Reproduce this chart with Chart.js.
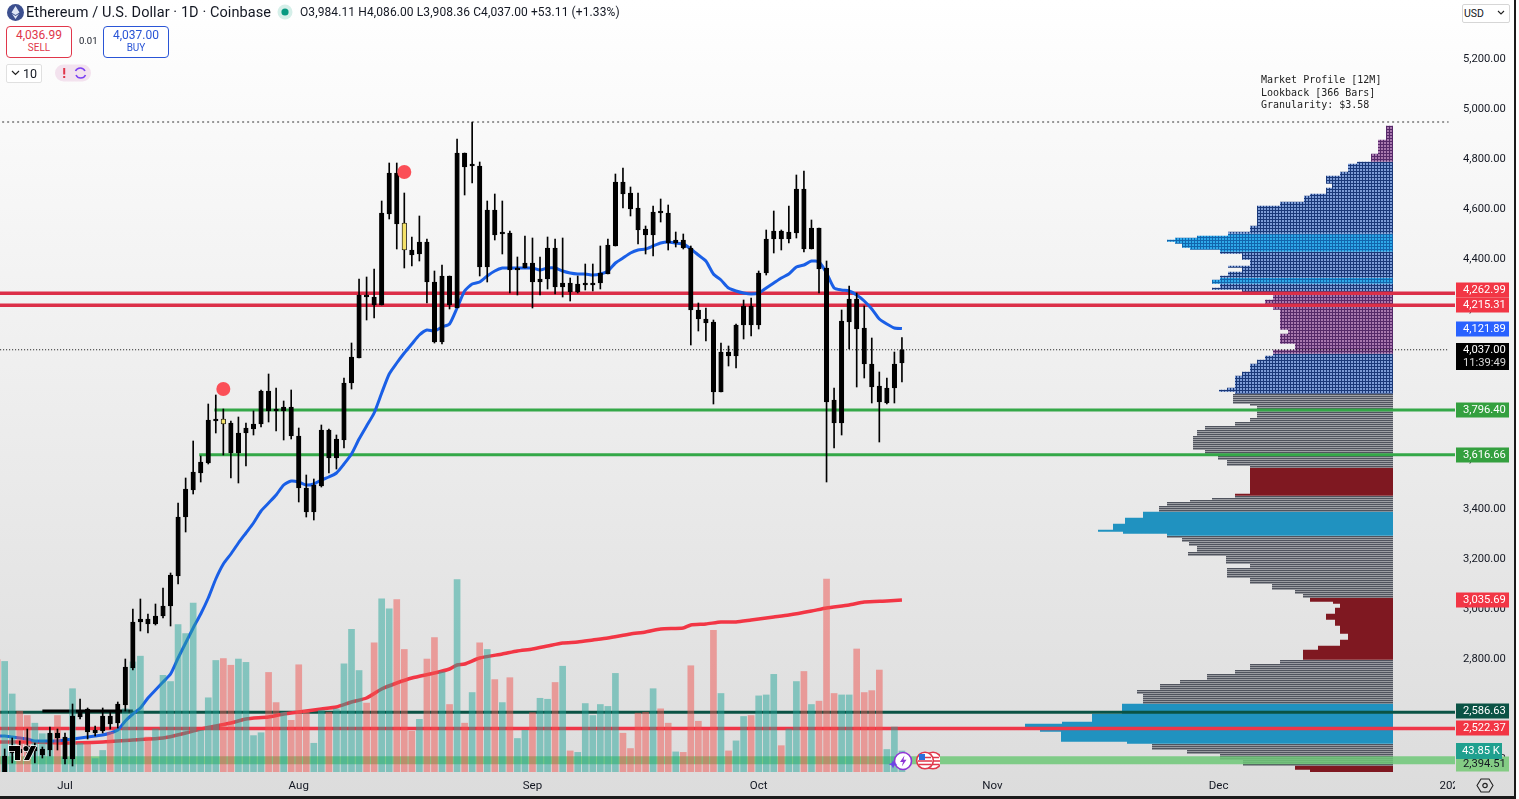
<!DOCTYPE html>
<html>
<head>
<meta charset="utf-8">
<title>ETHUSD</title>
<script src="https://cdn.jsdelivr.net/npm/chart.js@4"></script>
<style>
  html, body { margin: 0; padding: 0; background: #fff; overflow: hidden; }
  #wrap { position: relative; width: 1519px; height: 799px; font-family: Roboto, sans-serif; color: #131722; }
  #wrap canvas { position: absolute; left: 0; top: 0; }
  .abs { position: absolute; white-space: nowrap; }
  .trade { position: absolute; top: 26px; height: 29px; width: 64px; border: 1px solid; border-radius: 4px; text-align: center; font-size: 12px; line-height: 14px; padding-top: 1px; background: #fff; }
  .trade small { display: block; font-size: 10px; line-height: 11px; }
</style>
</head>
<body>
<div id="wrap">
  <canvas id="chart" width="1519" height="799"></canvas>

  <svg class="abs" style="left:6px;top:3px" width="19" height="19" viewBox="0 0 19 19">
    <circle cx="9.5" cy="9.5" r="8.5" fill="#3c4f8f"/>
    <path d="M9.5 3 L13.5 9.6 L9.5 12 L5.5 9.6 Z M9.5 13 L13 10.8 L9.5 16 L6 10.8 Z" fill="#dfe6f7"/>
  </svg>
  <div class="abs" style="left:26px;top:4px;font-size:14.5px;letter-spacing:.08px">Ethereum / U.S. Dollar · 1D · Coinbase</div>
  <svg class="abs" style="left:277px;top:4px" width="16" height="16"><circle cx="8" cy="8" r="7.5" fill="#d5efe9"/><circle cx="8" cy="8" r="3.6" fill="#089981"/></svg>
  <div class="abs" style="left:300px;top:5px;font-size:12px;letter-spacing:.1px">O3,984.11 H4,086.00 L3,908.36 C4,037.00 +53.11 (+1.33%)</div>

  <div class="trade" style="left:6px;border-color:#e0364a;color:#e0364a">4,036.99<small>SELL</small></div>
  <div class="abs" style="left:79px;top:35px;font-size:9.5px">0.01</div>
  <div class="trade" style="left:103px;border-color:#2a55d6;color:#2a55d6">4,037.00<small>BUY</small></div>

  <div class="abs" style="left:6px;top:64px;width:34px;height:17px;border:1px solid #e0e0e0;border-radius:2px;background:#fff;font-size:12.5px;line-height:17px;text-align:right"><span style="padding-right:4px">10</span></div>
  <svg class="abs" style="left:11px;top:70px" width="9" height="6"><path d="M1 1 L4.5 4.5 L8 1" fill="none" stroke="#222" stroke-width="1.2"/></svg>
  <svg class="abs" style="left:55px;top:64px" width="36" height="18">
    <rect x="0" y="0.5" width="36" height="17" rx="8.5" fill="#f3e2ee"/>
    <rect x="8.2" y="4" width="2" height="6.5" fill="#e0364a"/><rect x="8.2" y="12" width="2" height="2" fill="#e0364a"/>
    <path d="M20.5 7 A5.2 5.2 0 0 1 30 7 M30.5 11 A5.2 5.2 0 0 1 21 11" fill="none" stroke="#7b3ff2" stroke-width="1.5"/>
  </svg>

  <div class="abs" style="left:1462px;top:4px;width:46px;height:17px;border:1px solid #d6d6d6;border-radius:2px;background:#fff;font-size:10.5px;line-height:17px;text-indent:1px">USD</div>
  <svg class="abs" style="left:1497px;top:10px" width="8" height="6"><path d="M1 1 L4 4 L7 1" fill="none" stroke="#222" stroke-width="1.1"/></svg>

  <div class="abs" style="left:1261px;top:74px;font-family:'DejaVu Sans Mono',monospace;font-size:10px;line-height:12.6px;color:#222">Market Profile [12M]<br>Lookback [366 Bars]<br>Granularity: $3.58</div>

  <svg class="abs" style="left:7px;top:743px" width="31" height="21" viewBox="0 0 31 21">
    <path d="M2 3 H13 V17 H8 V8 H2 Z M19 3 A2.6 2.6 0 1 1 19 8.2 A2.6 2.6 0 1 1 19 3 Z M24 3 H29 L22 17 H17 Z" fill="#000" stroke="#fff" stroke-width="1.5" paint-order="stroke"/>
  </svg>

  <svg class="abs" style="left:886px;top:749px" width="54" height="24" viewBox="0 0 54 24">
    <circle cx="17" cy="12" r="8.5" fill="#fff" stroke="#8f35d6" stroke-width="1.6"/>
    <path d="M18.5 6.5 L14 13 H17 L15.8 17.5 L20.5 10.8 H17.5 Z" fill="#8f35d6"/>
    <path d="M7 11 L8.3 14 L11.3 15.3 L8.3 16.6 L7 19.6 L5.7 16.6 L2.7 15.3 L5.7 14 Z" fill="#6a45e6"/>
    <circle cx="47" cy="11.5" r="8.3" fill="#fff" stroke="#e0364a" stroke-width="1.6"/>
    <path d="M41 8.5 H53 M40 12 H54 M41 15.5 H53" stroke="#e0364a" stroke-width="1.4"/>
    <circle cx="39" cy="11.5" r="8.3" fill="#fff" stroke="#e0364a" stroke-width="1.6"/>
    <path d="M33 8.5 H45 M32 12 H46 M33 15.5 H45" stroke="#e0364a" stroke-width="1.4"/>
    <rect x="33" y="5" width="6" height="6" fill="#2a6fdb"/>
  </svg>

  <svg class="abs" style="left:1476px;top:777px" width="18" height="17" viewBox="0 0 18 17">
    <path d="M5 2 H13 L17 8.5 L13 15 H5 L1 8.5 Z" fill="none" stroke="#222" stroke-width="1.1"/>
    <circle cx="9" cy="8.5" r="2.2" fill="none" stroke="#222" stroke-width="1.2"/>
  </svg>
</div>

<script>
// first candle sits nine days before 1 Jul
var firstDay = -9;

var opens = [
  2452,2344,2424,2440,2452,2432,2416,2436,2504,2400,
  2400,2568,2600,2504,2512,2572,2544,2616,2764,2948,
  2960,2940,2972,3012,3132,3368,3476,3544,3584,3752,
  3760,3744,3624,3704,3720,3740,3872,3796,3792,3808,
  3692,3484,3388,3492,3716,3604,3676,3904,4004,4256,
  4248,4216,4580,4744,4544,4436,4420,4468,4308,4068,
  4332,4204,4824,4772,4772,4368,4596,4500,4504,4356,
  4364,4384,4308,4320,4444,4288,4304,4268,4296,4296,
  4304,4340,4452,4708,4664,4604,4520,4496,4588,4584,
  4464,4476,4444,4196,4160,4148,3868,4028,4012,4136,
  4212,4136,4344,4480,4512,4480,4504,4680,4440,4524,
  4364,3836,3744,4148,4240,4124,3980,3892,3824,3884,3984.11];
var highs = [
  2464,2440,2484,2472,2520,2464,2448,2528,2520,2504,
  2620,2640,2604,2532,2604,2588,2628,2800,3000,3040,
  2980,3020,3084,3144,3424,3524,3672,3612,3820,3856,
  3800,3752,3768,3744,3792,3876,3940,3884,3832,3876,
  3724,3536,3520,3736,3720,3696,3924,4064,4320,4328,
  4360,4632,4784,4784,4664,4488,4572,4480,4352,4376,
  4332,4880,4824,4948,4788,4632,4660,4632,4512,4408,
  4492,4484,4408,4488,4480,4484,4324,4332,4380,4380,
  4452,4480,4740,4764,4688,4664,4532,4612,4640,4616,
  4508,4500,4452,4224,4204,4156,4064,4052,4140,4236,
  4244,4352,4516,4592,4516,4612,4736,4752,4556,4524,
  4392,3884,4196,4292,4264,4212,4084,3948,3924,4028,4086];
var lows = [
  2372,2332,2384,2408,2424,2384,2404,2412,2436,2380,
  2372,2560,2480,2492,2504,2520,2524,2592,2756,2912,
  2904,2936,2964,2932,3100,3308,3460,3508,3580,3704,
  3616,3524,3504,3572,3696,3728,3748,3712,3676,3680,
  3428,3368,3356,3488,3544,3560,3644,3880,4004,4156,
  4164,4216,4560,4440,4364,4372,4392,4224,4064,4060,
  4200,4204,4656,4704,4332,4308,4476,4420,4264,4256,
  4364,4204,4256,4280,4260,4248,4232,4264,4276,4272,
  4280,4340,4452,4604,4572,4460,4420,4412,4548,4436,
  4448,4440,4056,4112,4072,3820,3868,3972,3964,4080,
  4092,4120,4336,4424,4436,4464,4484,4428,4440,4264,
  3508,3644,3696,4040,3888,3924,3824,3668,3820,3824,3908.36];
var closes = [
  2392,2412,2436,2424,2432,2448,2440,2504,2484,2488,
  2572,2592,2508,2516,2572,2540,2620,2768,2948,2960,
  2940,2972,3012,3136,3368,3480,3548,3588,3756,3760,
  3740,3624,3704,3724,3740,3872,3792,3792,3808,3692,
  3484,3388,3496,3716,3604,3680,3904,4008,4256,4248,
  4216,4584,4744,4540,4436,4416,4468,4308,4068,4332,
  4216,4824,4768,4776,4368,4596,4496,4504,4356,4364,
  4384,4308,4320,4444,4288,4304,4268,4300,4300,4304,
  4344,4456,4708,4660,4600,4516,4496,4588,4584,4464,
  4476,4444,4196,4160,4144,3868,4028,4012,4136,4212,
  4136,4344,4480,4512,4480,4508,4680,4440,4524,4360,
  3828,3744,4152,4240,4120,3980,3888,3828,3884,3980,4037];
// volume in thousands
var volumes = [
  235,231,163,127,118,102,80,80,118,30,
  174,60,59,28,45,83,90,132,230,242,
  73,90,202,189,308,289,353,87,155,233,
  237,223,236,229,76,82,208,145,125,108,
  224,129,60,129,125,132,226,298,212,144,
  270,362,341,360,256,85,110,236,281,209,
  141,402,102,166,270,256,193,145,197,70,
  87,124,154,152,187,221,44,41,143,118,
  141,137,206,81,49,123,125,174,132,102,
  42,41,222,106,87,296,164,44,65,116,
  118,159,161,204,55,90,189,210,141,148,
  403,164,161,161,257,166,170,213,47,94,43.85];
var emaValues = [
  2492,2492,2488,2484,2480,2472,2472,2472,2472,2476,
  2480,2484,2488,2492,2496,2504,2516,2552,2580,2604,
  2644,2676,2708,2740,2804,2864,2924,2980,3044,3120,
  3180,3220,3264,3304,3344,3392,3424,3456,3496,3512,
  3508,3496,3500,3516,3528,3544,3580,3620,3680,3732,
  3784,3864,3940,3984,4024,4060,4096,4116,4112,4128,
  4140,4204,4272,4300,4308,4332,4352,4364,4364,4364,
  4364,4364,4356,4364,4364,4352,4344,4340,4340,4336,
  4340,4352,4384,4404,4424,4436,4440,4452,4464,4468,
  4464,4460,4440,4416,4392,4340,4316,4284,4272,4264,
  4260,4264,4284,4304,4324,4340,4368,4376,4392,4388,
  4344,4284,4276,4272,4256,4232,4200,4160,4140,4124,4121.89];
var smaDays = [-9,-4,0,5,9,13,16,18,20,22,24,27,29,31,34,36,38,40,42,44,46,49,51,52,53,55,58,60,62,64,66,68,70,72,75,77,79,82,83,85,87,89,91,94,96,99,101,104,106,109,111];
var smaValues = [2468,2468,2464,2468,2476,2484,2504,2520,2532,2544,2560,2568,2580,2588,2600,2608,2628,2644,2680,2704,2724,2744,2760,2776,2780,2804,2820,2832,2840,2852,2864,2868,2876,2884,2900,2908,2920,2924,2936,2940,2948,2948,2956,2968,2976,2992,3004,3016,3028,3032,3035.69];

var yellowDays = [21, 45];
var signalDays = [21, 45];
var signalPrices = [3880, 4748];

// market profile: row length starting at each price, going down
var profilePrices = [4932,4880,4820,4792,4780,4752,4732,4704,4684,4664,4652,4632,4612,4532,4512,4492,4484,4476,4472,4460,4444,4436,4420,4400,4376,4364,4352,4332,4320,4304,4284,4276,4260,4240,4224,4200,4120,4100,4060,4040,4012,4000,3980,3952,3932,3884,3876,3868,3860,3824,3812,3764,3752,3732,3720,3692,3640,3620,3600,3572,3460,3448,3440,3428,3412,3388,3368,3340,3320,3312,3300,3288,3268,3252,3232,3212,3184,3164,3124,3100,3080,3060,3044,3032,3020,3004,2980,2960,2932,2904,2880,2852,2836,2800,2784,2760,2740,2720,2700,2680,2660,2624,2580,2548,2540,2516,2508,2472,2460,2440,2420,2400,2372,2360];
var profileLengths = [7,15,22,36,45,53,67,61,67,83,89,113,136,143,165,196,218,226,218,211,203,173,151,143,165,151,165,173,181,173,181,151,120,128,120,113,105,113,98,120,128,136,143,151,158,166,174,158,160,143,136,143,158,188,196,200,188,175,166,143,158,181,203,226,234,250,268,280,295,270,226,211,204,196,205,167,143,166,143,121,98,90,83,60,53,58,67,58,53,45,53,75,90,113,143,158,186,213,233,256,250,271,301,331,368,353,332,266,241,206,173,150,98,83];
var profileBottom = 2344;
var profileRowStep = 8;
var zoneTops = [4932,4792,4504,4432,4324,4300,4264,4020,3864,3568,3452,3388,3296,3044,2800,2620,2464,2376];
var zoneKinds = ['purple','grid','bright','grid','bright','grid','purple','grid','gray','maroon','gray','cyan','gray','maroon','gray','cyan','gray','maroon'];

// horizontal levels
var levelPrices = [4262.99,4215.31,3796.40,3616.66,2586.63,2522.37,2394.51];
var levelFrom = [-9,-9,19.8,17.8,-9,-9,-9];
var levelColors = ['#dc2f48','#dc2f48','#34a848','#34a848','#0b5345','#ef3648','rgba(110,200,120,0.85)'];
var levelWidths = [3.5,3.5,3,3,3,3.5,8];
var highPrice = 4948;
var lastClose = 4037;
var blackLevel = 2592, blackFrom = -3, blackTo = 9;

var monthDays = [0,31,62,92,123,153,184];
var monthLabels = ['Jul','Aug','Sep','Oct','Nov','Dec','2026'];
var priceTicks = [2400,2600,2800,3000,3200,3400,3600,3800,4000,4200,4400,4600,4800,5000,5200];

var fmt = function (v) { return v.toLocaleString('en-US', { minimumFractionDigits: 2, maximumFractionDigits: 2 }); };

// price tags on the axis
var tags = [
  { value: 4262.99, bg: '#f23645', shift: -3 },
  { value: 4215.31, bg: '#f23645' },
  { value: 4121.89, bg: '#2962ff' },
  { value: 3796.40, bg: '#34a03f' },
  { value: 3616.66, bg: '#34a03f' },
  { value: 3035.69, bg: '#f23645' },
  { value: 2586.63, bg: '#0b5345', shift: -1 },
  { value: 2522.37, bg: '#f23645' },
  { value: 2394.51, bg: '#84cc84', color: '#131722', shift: 4 }
];

var days = opens.map(function (_, i) { return firstDay + i; });

function tile(cell, line) {
  var c = document.createElement('canvas');
  c.width = 3; c.height = 3;
  var g = c.getContext('2d');
  g.fillStyle = cell; g.fillRect(0, 0, 3, 3);
  g.fillStyle = line; g.fillRect(0, 0, 3, 1); g.fillRect(0, 0, 1, 3);
  return g.createPattern(c, 'repeat');
}

var zoneStyles = {
  purple: { color: tile('#a878ae', '#552868'), width: 2.1 },
  grid: { color: tile('#7d9cd6', '#1a3878'), width: 2.1 },
  bright: { color: tile('#2ea9ea', '#1265ad'), width: 2.1 },
  gray: { color: '#50545e', width: 1.5 },
  maroon: { color: '#7f1821', width: 2.1 },
  cyan: { color: '#2092c0', width: 2.1 }
};

function profileLength(p) {
  var len = 0;
  for (var i = 0; i < profilePrices.length; i++) {
    if (p <= profilePrices[i]) len = profileLengths[i];
  }
  return len;
}

// one row every profileRowStep, each row goes to the zone it falls in
var zoneRows = zoneTops.map(function () { return []; });
for (var p = zoneTops[0] - 3; p > profileBottom; p -= profileRowStep) {
  var zone = 0;
  for (var z = 0; z < zoneTops.length; z++) {
    if (p <= zoneTops[z]) zone = z;
  }
  zoneRows[zone].push({ x: 0, y: p }, { x: profileLength(p), y: p }, { x: 0, y: NaN });
}

var profileSets = zoneRows.map(function (rows, z) {
  var st = zoneStyles[zoneKinds[z]];
  return {
    type: 'line', data: rows, xAxisID: 'xp', yAxisID: 'y', order: 50,
    borderColor: st.color, borderWidth: st.width, borderCapStyle: 'butt',
    pointRadius: 0, spanGaps: false, tension: 0
  };
});

var levelSets = levelPrices.map(function (price, i) {
  return {
    type: 'line', data: [{ x: levelFrom[i], y: price }, { x: 186, y: price }], order: 40,
    borderColor: levelColors[i], borderWidth: levelWidths[i], pointRadius: 0, borderCapStyle: 'butt'
  };
});

var isYellow = function (d) { return yellowDays.indexOf(d) >= 0; };

var pageFill = function (c) {
  var g = c.createLinearGradient(0, 0, 0, 796);
  g.addColorStop(0, '#ffffff');
  g.addColorStop(1, '#dcdcdc');
  return g;
};

var framePlugin = {
  id: 'frame',
  beforeDraw: function (chart) {
    var c = chart.ctx;
    c.save();
    c.fillStyle = pageFill(c);
    c.fillRect(0, 0, 1514, 796);
    c.restore();
  },
  // covers the x labels that run under the price axis
  beforeDatasetsDraw: function (chart) {
    var c = chart.ctx, right = chart.chartArea.right;
    c.save();
    c.fillStyle = pageFill(c);
    c.fillRect(right, 0, 1514 - right, 796);
    c.fillStyle = '#1a1a1a';
    c.fillRect(1514, 0, 2, 796);
    c.fillRect(0, 796, 1516, 3);
    c.restore();
  },
  afterDraw: function (chart) {
    var c = chart.ctx, y = chart.scales.y, yv = chart.scales.yv;
    var left = chart.chartArea.right + 1;
    c.save();
    c.font = '11.2px Roboto';
    c.textBaseline = 'middle';
    c.textAlign = 'left';
    tags.forEach(function (t) {
      var py = Math.round(y.getPixelForValue(t.value) + (t.shift || 0));
      c.fillStyle = t.bg;
      c.fillRect(left, py - 7.5, 53, 15);
      c.fillStyle = t.color || '#fff';
      c.fillText(fmt(t.value), left + 7, py + 0.5);
    });
    // last price with bar countdown
    var ly = Math.round(y.getPixelForValue(lastClose));
    c.fillStyle = '#000';
    c.fillRect(left, ly - 7, 53, 27);
    c.fillStyle = '#fff';
    c.fillText(fmt(lastClose), left + 7, ly);
    c.fillStyle = '#d8d8d8';
    c.fillText('11:39:49', left + 7, ly + 13);
    // last volume
    var vy = Math.round(yv.getPixelForValue(volumes[volumes.length - 1]));
    c.fillStyle = '#1fa08f';
    c.fillRect(left, vy - 8, 46, 16);
    c.fillStyle = '#fff';
    c.fillText(volumes[volumes.length - 1] + ' K', left + 6, vy + 0.5);
    c.restore();
  }
};

new Chart(document.getElementById('chart').getContext('2d'), {
  type: 'bar',
  data: {
    datasets: profileSets.concat(levelSets, [
      {
        type: 'line', data: [{ x: -9, y: highPrice }, { x: 183.5, y: highPrice }], order: 41,
        borderColor: '#777', borderWidth: 1.5, borderDash: [2, 3], pointRadius: 0
      },
      {
        type: 'line', data: [{ x: -9, y: lastClose }, { x: 183.5, y: lastClose }], order: 41,
        borderColor: '#111', borderWidth: 1, borderDash: [1, 2], pointRadius: 0
      },
      {
        type: 'line', data: [{ x: blackFrom, y: blackLevel }, { x: blackTo, y: blackLevel }], order: 39,
        borderColor: '#000', borderWidth: 3, pointRadius: 0, borderCapStyle: 'butt'
      },
      {
        type: 'line', order: 30, pointRadius: 0, borderColor: '#1a5fe6', borderWidth: 3, tension: 0.2,
        data: days.map(function (d, i) { return { x: d, y: emaValues[i] }; })
      },
      {
        type: 'line', order: 31, pointRadius: 0, borderColor: '#f23645', borderWidth: 3.5, tension: 0.2,
        data: smaDays.map(function (d, i) { return { x: d, y: smaValues[i] }; })
      },
      {
        type: 'bar', order: 20, yAxisID: 'yv', grouped: false, barThickness: 6,
        data: days.map(function (d, i) { return { x: d, y: volumes[i] }; }),
        backgroundColor: days.map(function (d, i) {
          return closes[i] >= opens[i] ? 'rgba(38,166,154,0.5)' : 'rgba(239,83,80,0.5)';
        })
      },
      {
        type: 'bar', order: 10, grouped: false, barThickness: 1, backgroundColor: '#000',
        data: days.map(function (d, i) { return { x: d, y: [lows[i], highs[i]] }; })
      },
      {
        type: 'bar', order: 5, grouped: false, barThickness: 4.5, minBarLength: 2,
        borderSkipped: false, borderWidth: 0.8, borderColor: '#000',
        data: days.map(function (d, i) { return { x: d, y: [opens[i], closes[i]] }; }),
        backgroundColor: days.map(function (d) { return isYellow(d) ? '#f5e26a' : '#000'; })
      },
      {
        type: 'line', order: 1, showLine: false, pointRadius: 7, pointBackgroundColor: '#fb4f57', pointBorderWidth: 0,
        data: signalDays.map(function (d, i) { return { x: d, y: signalPrices[i] }; })
      }
    ])
  },
  options: {
    responsive: false,
    animation: false,
    events: [],
    layout: { padding: 0, autoPadding: false },
    plugins: { legend: { display: false }, tooltip: { enabled: false } },
    scales: {
      x: {
        type: 'linear', position: 'bottom', offset: false, min: -8.62, max: 184.35,
        grid: { display: false, offset: false, drawTicks: false }, border: { display: false },
        afterBuildTicks: function (s) { s.ticks = monthDays.map(function (d) { return { value: d }; }); },
        afterFit: function (s) { s.height = 27; s.paddingLeft = 0; s.paddingRight = 0; },
        ticks: {
          autoSkip: false, maxRotation: 0, padding: 7, color: '#131722',
          font: { family: 'Roboto', size: 11.5 },
          callback: function (v) { return monthLabels[monthDays.indexOf(v)]; }
        }
      },
      xp: {
        type: 'linear', display: false, reverse: true, min: -62, max: 1393, offset: false,
        grid: { display: false }
      },
      y: {
        type: 'linear', position: 'right', min: 2348, max: 5436,
        grid: { display: false, drawTicks: false }, border: { display: false },
        afterBuildTicks: function (s) { s.ticks = priceTicks.map(function (p) { return { value: p }; }); },
        afterFit: function (s) { s.width = 64; s.paddingTop = 0; s.paddingBottom = 0; },
        ticks: {
          z: 1, padding: 8, color: '#131722', autoSkip: false,
          font: { family: 'Roboto', size: 11.2 },
          callback: function (v) { return fmt(v); }
        }
      },
      yv: { type: 'linear', display: false, min: 0, max: 1613, grid: { display: false } }
    }
  },
  plugins: [framePlugin]
});
</script>
</body>
</html>
